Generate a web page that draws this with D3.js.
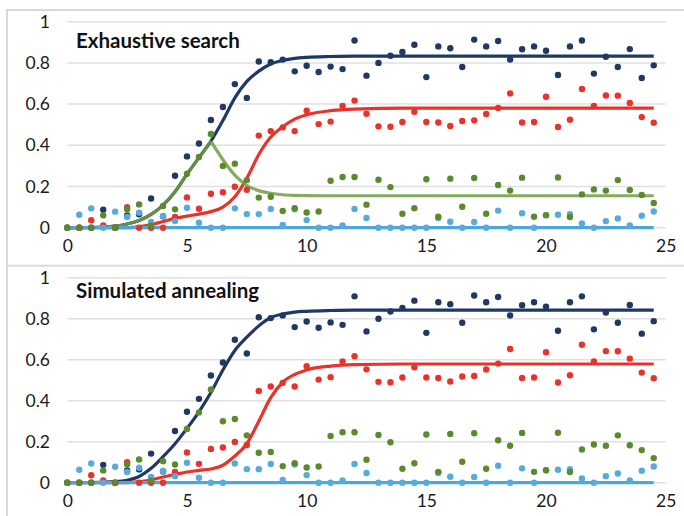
<!DOCTYPE html>
<html lang="en">
<head>
<meta charset="UTF-8">
<script src="https://d3js.org/d3.v7.min.js"></script>
<title>Exhaustive search vs simulated annealing</title>
<style>
  body { margin: 0; background: #fff; }
  svg { display: block; font-family: Lato, "Open Sans", sans-serif; }
</style>
</head>
<body>
<svg width="684" height="516"></svg>
<script>
// observation times (x) of the dots
var ptX = [0, 0.5, 1, 1.5, 2, 2.5, 3, 3.5, 4, 4.5, 5, 5.5, 6, 6.5, 7, 7.5, 8,
  8.5, 9, 9.5, 10, 10.5, 11, 11.5, 12, 12.5, 13, 13.5, 14, 14.5, 15, 15.5, 16,
  16.5, 17, 17.5, 18, 18.5, 19, 19.5, 20, 20.5, 21, 21.5, 22, 22.5, 23, 23.5, 24, 24.5];

var navyPts = [0, 0, 0, 0.087, 0, 0.06, 0.065, 0.142, 0.055, 0.252, 0.346, 0.409, 0.523, 0.586, 0.697, 0.63, 0.807,
  0.803, 0.816, 0.759, 0.786, 0.756, 0.782, 0.770, 0.909, 0.738, 0.8, 0.835, 0.853, 0.888, 0.731, 0.880, 0.871,
  0.780, 0.913, 0.880, 0.906, 0.816, 0.866, 0.880, 0.859, 0.741, 0.880, 0.909, 0.748, 0.830, 0.780, 0.867, 0.727, 0.788];
var redPts = [0, 0, 0.036, 0.011, 0, 0.10, 0, 0, 0, 0.052, 0.147, 0.092, 0.165, 0.172, 0.199, 0.184, 0.447,
  0.469, 0.487, 0.469, 0.568, 0.503, 0.515, 0.591, 0.617, 0.553, 0.492, 0.49, 0.513, 0.563, 0.513, 0.511, 0.494,
  0.518, 0.521, 0.552, 0.581, 0.652, 0.511, 0.513, 0.636, 0.489, 0.524, 0.673, 0.591, 0.642, 0.641, 0.605, 0.537, 0.51];
var greenPts = [0, 0, 0, 0.06, 0, 0.09, 0.113, 0.01, 0.105, 0.089, 0.262, 0.343, 0.455, 0.30, 0.311, 0.231, 0.146,
  0.15, 0.081, 0.095, 0.074, 0.079, 0.228, 0.246, 0.246, 0.112, 0.233, 0.197, 0.068, 0.095, 0.235, 0.053, 0.238,
  0.102, 0.241, 0.068, 0.207, 0.18, 0.243, 0.053, 0.061, 0.244, 0.052, 0.162, 0.186, 0.18, 0.231, 0.183, 0.159, 0.12];
var bluePts = [0, 0.063, 0.094, 0, 0.078, 0.052, 0.073, 0.028, 0.057, 0.032, 0.097, 0.024, 0, 0, 0.094, 0.066, 0.066,
  0.091, 0.013, 0.089, 0.037, 0, 0, 0.011, 0.091, 0.047, 0, 0, 0, 0, 0, 0.047, 0.029,
  0, 0.028, 0, 0.083, 0, 0.07, 0, 0.061, 0.063, 0.066, 0.021, 0, 0.032, 0.045, 0.011, 0.058, 0.079];

// fitted curves, read at these x values
var fitX = [0, 1, 2, 2.5, 3, 3.5, 4, 4.5, 5, 5.5, 6, 6.5, 7, 7.5, 8, 8.5, 9, 9.5, 10, 11, 12, 14, 24.5];

var exNavyFit = [0, 0.001, 0.008, 0.018, 0.035, 0.065, 0.11, 0.175, 0.26, 0.34, 0.42, 0.52, 0.63, 0.71, 0.76, 0.795, 0.812, 0.822, 0.827, 0.831, 0.833, 0.833, 0.833];
var exGreenFit = [0, 0.001, 0.008, 0.018, 0.035, 0.065, 0.11, 0.175, 0.26, 0.34, 0.42, 0.33, 0.255, 0.205, 0.18, 0.167, 0.16, 0.157, 0.156, 0.155, 0.155, 0.155, 0.155];
var exRedFit = [0, 0, 0, 0, 0.005, 0.015, 0.03, 0.045, 0.056, 0.066, 0.078, 0.10, 0.15, 0.24, 0.355, 0.44, 0.49, 0.527, 0.548, 0.568, 0.576, 0.58, 0.58];
var exBlueFit = [0, 0, 0, 0, 0, 0, 0, 0, 0, 0, 0, 0, 0, 0, 0, 0, 0, 0, 0, 0, 0, 0, 0];

var saNavyFit = [0, 0.001, 0.005, 0.012, 0.03, 0.07, 0.127, 0.19, 0.265, 0.346, 0.44, 0.55, 0.645, 0.71, 0.765, 0.805, 0.823, 0.832, 0.836, 0.84, 0.842, 0.842, 0.842];
var saRedFit = [0, 0, 0, 0, 0.005, 0.013, 0.028, 0.04, 0.052, 0.06, 0.067, 0.085, 0.13, 0.19, 0.30, 0.415, 0.49, 0.528, 0.55, 0.569, 0.576, 0.579, 0.579];
var saBlueFit = [0, 0, 0, 0, 0, 0, 0, 0, 0, 0, 0, 0, 0, 0, 0, 0, 0, 0, 0, 0, 0, 0, 0];

var xTicks = [0, 5, 10, 15, 20, 25];
var yTicks = [0, 0.2, 0.4, 0.6, 0.8, 1];
var yTickLabels = ["0", "0.2", "0.4", "0.6", "0.8", "1"];

var colors = { navy: "#1f3864", red: "#e8322a", green: "#5a8a2c", blue: "#55aade",
               greenLine: "#6e9e42", blueLine: "#4fa6db" };

var svg = d3.select("svg");
var x = d3.scaleLinear().domain([0, 25]).range([67.3, 665.7]);

var panels = [
  { title: "Exhaustive search", top: 10, y0: 227.7, y1: 21.7, titleY: 47.7,
    fits: [[exNavyFit, colors.navy, 1], [exRedFit, colors.red, 1], [exGreenFit, colors.greenLine, 0.85], [exBlueFit, colors.blueLine, 1]] },
  { title: "Simulated annealing", top: 265.7, y0: 482.7, y1: 277.7, titleY: 298.3,
    fits: [[saNavyFit, colors.navy, 1], [saRedFit, colors.red, 1], [saBlueFit, colors.blueLine, 1]] }
];

panels.forEach(function(p) {
  var y = d3.scaleLinear().domain([0, 1]).range([p.y0, p.y1]);
  var g = svg.append("g");

  g.append("rect")
    .attr("x", 7).attr("y", p.top)
    .attr("width", 700).attr("height", 270)
    .attr("fill", "#fff")
    .attr("stroke", "#d9d9d9").attr("stroke-width", 2);

  // gridlines
  g.selectAll(".grid").data(yTicks).enter().append("line")
    .attr("x1", x(0)).attr("x2", x(25))
    .attr("y1", d => y(d)).attr("y2", d => y(d))
    .attr("stroke", "#e0e0e0").attr("stroke-width", 1.5);

  // axes (labels only, no domain/tick lines)
  var yAxis = d3.axisLeft(y).tickValues(yTicks).tickSize(0).tickPadding(0)
    .tickFormat((d, i) => yTickLabels[i]);
  var ya = g.append("g").attr("transform", "translate(50,0)").call(yAxis);
  var xAxis = d3.axisBottom(x).tickValues(xTicks).tickSize(0).tickPadding(0);
  var xa = g.append("g").attr("transform", "translate(0," + (p.y0 + 12) + ")").call(xAxis);
  [ya, xa].forEach(a => {
    a.select(".domain").remove();
    a.selectAll("text").attr("font-size", 17.5).attr("fill", "#1a1a1a").style("font-family", "Lato, sans-serif");
  });

  // fitted curves
  p.fits.forEach(function(f) {
    var vals = f[0];
    var peak = vals.indexOf(d3.max(vals));
    var segs = [vals.map((v, i) => [fitX[i], v])];
    // the green curve has a sharp peak: draw rising and falling parts apart
    if (f[1] === colors.greenLine) {
      segs = [segs[0].slice(0, peak + 1), segs[0].slice(peak)];
    }
    segs.forEach(function(s) {
      g.append("path")
        .attr("d", d3.line().x(d => x(d[0])).y(d => y(d[1])).curve(d3.curveMonotoneX)(s))
        .attr("fill", "none").attr("stroke", f[1]).attr("stroke-opacity", f[2])
        .attr("stroke-width", 3.2).attr("stroke-linecap", "butt");
    });
  });

  // observed dots
  [[navyPts, colors.navy], [redPts, colors.red], [bluePts, colors.blue], [greenPts, colors.green]].forEach(function(s) {
    g.append("g").selectAll("circle").data(s[0]).enter().append("circle")
      .attr("cx", (d, i) => x(ptX[i]))
      .attr("cy", d => y(d))
      .attr("r", 3.2)
      .attr("fill", s[1]);
  });

  g.append("text")
    .attr("x", 76).attr("y", p.titleY)
    .attr("font-size", 20.5).attr("font-weight", "bold").attr("fill", "#111")
    .text(p.title);
});
</script>
</body>
</html>
